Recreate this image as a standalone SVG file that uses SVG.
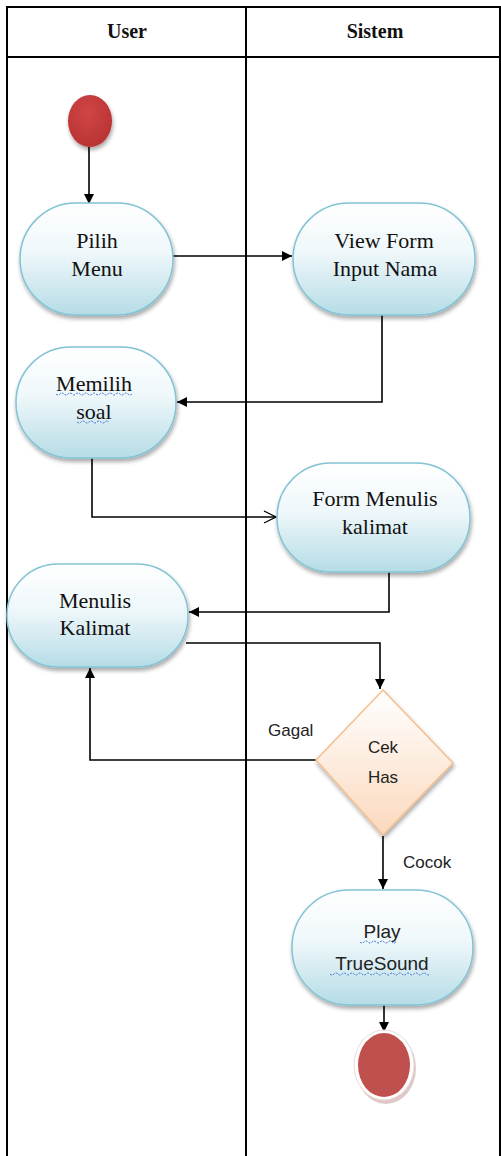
<svg xmlns="http://www.w3.org/2000/svg" width="501" height="1156" viewBox="0 0 501 1156">
  <defs>
    <linearGradient id="actFill" x1="0" y1="0" x2="0" y2="1">
      <stop offset="0" stop-color="#ffffff"/>
      <stop offset="0.45" stop-color="#eef7fa"/>
      <stop offset="1" stop-color="#b5dce6"/>
    </linearGradient>
    <linearGradient id="decFill" x1="0" y1="0" x2="0" y2="1">
      <stop offset="0" stop-color="#ffffff"/>
      <stop offset="1" stop-color="#fbd9bd"/>
    </linearGradient>
    <radialGradient id="redFill" cx="0.45" cy="0.35" r="0.7">
      <stop offset="0" stop-color="#d04545"/>
      <stop offset="1" stop-color="#b83232"/>
    </radialGradient>
    <filter id="shadow" x="-20%" y="-20%" width="140%" height="150%">
      <feGaussianBlur in="SourceAlpha" stdDeviation="2"/>
      <feOffset dx="1" dy="3" result="b"/>
      <feComponentTransfer><feFuncA type="linear" slope="0.35"/></feComponentTransfer>
      <feMerge><feMergeNode/><feMergeNode in="SourceGraphic"/></feMerge>
    </filter>
    <marker id="arrow" viewBox="0 0 10 10" refX="10" refY="5" markerWidth="10" markerHeight="10" markerUnits="userSpaceOnUse" orient="auto">
      <path d="M0,0 L10,5 L0,10 z" fill="#000"/>
    </marker>
    <marker id="openArrow" viewBox="0 0 14 14" refX="13" refY="7" markerWidth="14" markerHeight="14" markerUnits="userSpaceOnUse" orient="auto">
      <path d="M1,1 L13,7 L1,13" fill="none" stroke="#000" stroke-width="1.3"/>
    </marker>
    <style>
      .lane { fill: none; stroke: #000; stroke-width: 2; }
      .act { fill: url(#actFill); stroke: #82c3d4; stroke-width: 1.5; filter: url(#shadow); }
      .dec { fill: url(#decFill); stroke: #f5be8c; stroke-width: 1.5; filter: url(#shadow); }
      .edge { fill: none; stroke: #000; stroke-width: 1.6; }
      .wavy { fill: none; stroke: #3b6fd6; stroke-width: 1; stroke-dasharray: 2 1.2; }
    </style>
  </defs>

  <rect width="501" height="1156" fill="#ffffff"/>

  <!-- swimlane table -->
  <g id="lanes">
    <path class="lane" d="M7,1160 V7 H503 M7,57 H503 M246,7 V1160 M500,7 V1160"/>
    <g font-family="'Liberation Serif', 'DejaVu Serif', serif" font-weight="bold" font-size="20" text-anchor="middle" fill="#111">
      <text x="127" y="38">User</text>
      <text x="375" y="38">Sistem</text>
    </g>
  </g>

  <!-- connectors -->
  <g id="connectors">
    <path class="edge" d="M89,147 V204" marker-end="url(#arrow)"/>
    <path class="edge" d="M173,256 H292" marker-end="url(#arrow)"/>
    <path class="edge" d="M382,315 V402 H177" marker-end="url(#arrow)"/>
    <path class="edge" d="M92,458 V517 H276" marker-end="url(#openArrow)"/>
    <path class="edge" d="M389,572 V612 H189" marker-end="url(#arrow)"/>
    <path class="edge" d="M186,643 H380 V689" marker-end="url(#arrow)"/>
    <path class="edge" d="M316,760 H90 V668" marker-end="url(#arrow)"/>
    <path class="edge" d="M383,836 V889" marker-end="url(#arrow)"/>
    <path class="edge" d="M384,1005 V1032" marker-end="url(#arrow)"/>
    <g font-family="'Liberation Sans', 'DejaVu Sans', sans-serif" font-size="17" fill="#222">
      <text x="268" y="736">Gagal</text>
      <text x="403" y="868">Cocok</text>
    </g>
  </g>

  <!-- initial node -->
  <g id="start">
    <ellipse cx="90" cy="121" rx="22" ry="26" fill="url(#redFill)" filter="url(#shadow)"/>
  </g>

  <g font-family="'Liberation Serif', 'DejaVu Serif', serif" font-size="22" text-anchor="middle" fill="#111">
    <g id="pilih-menu">
      <rect class="act" x="20" y="203" width="153" height="112" rx="56" ry="56"/>
      <text x="97" y="248">Pilih</text>
      <text x="97" y="276">Menu</text>
    </g>

    <g id="view-form">
      <rect class="act" x="293" y="203" width="182" height="112" rx="56" ry="56"/>
      <text x="384" y="248">View Form</text>
      <text x="385" y="276">Input Nama</text>
    </g>

    <g id="memilih-soal">
      <rect class="act" x="16" y="347" width="160" height="111" rx="55" ry="55"/>
      <text x="94" y="391">Memilih</text>
      <text x="94" y="419">soal</text>
      <path class="wavy" d="M56,394 q2,2 4,0 t4,0 t4,0 t4,0 t4,0 t4,0 t4,0 t4,0 t4,0 t4,0 t4,0 t4,0 t4,0 t4,0 t4,0 t4,0 t4,0 t4,0 t4,0"/>
      <path class="wavy" d="M77,422 q2,2 4,0 t4,0 t4,0 t4,0 t4,0 t4,0 t4,0 t4,0"/>
    </g>

    <g id="form-menulis">
      <rect class="act" x="277" y="463" width="193" height="109" rx="54" ry="54"/>
      <text x="375" y="506">Form Menulis</text>
      <text x="375" y="534">kalimat</text>
    </g>

    <g id="menulis-kalimat">
      <rect class="act" x="7" y="564" width="181" height="103" rx="51" ry="51"/>
      <text x="95" y="608">Menulis</text>
      <text x="95" y="635">Kalimat</text>
    </g>
  </g>

  <g font-family="'Liberation Sans', 'DejaVu Sans', sans-serif" text-anchor="middle" fill="#222">
    <g id="cek-has" font-size="17">
      <path class="dec" d="M383,690 L453,763 L383,835 L316,760 Z"/>
      <text x="383" y="753">Cek</text>
      <text x="383" y="783">Has</text>
    </g>

    <g id="play-truesound" font-size="19">
      <rect class="act" x="292" y="890" width="181" height="115" rx="57" ry="57"/>
      <text x="382" y="938">Play</text>
      <text x="382" y="970">TrueSound</text>
      <path class="wavy" d="M360,942 q2,2 4,0 t4,0 t4,0 t4,0 t4,0 t4,0 t4,0 t4,0 t4,0"/>
      <path class="wavy" d="M330,974 q2,2 4,0 t4,0 t4,0 t4,0 t4,0 t4,0 t4,0 t4,0 t4,0 t4,0 t4,0 t4,0 t4,0 t4,0 t4,0 t4,0 t4,0 t4,0 t4,0 t4,0 t4,0 t4,0 t4,0 t4,0 t4,0"/>
    </g>
  </g>

  <!-- final node -->
  <g id="end">
    <ellipse cx="386" cy="1068" rx="30" ry="36" fill="#c9a3a3" opacity="0.6"/>
    <ellipse cx="384" cy="1065" rx="30" ry="35" fill="#ffffff" stroke="#eedada" stroke-width="1"/>
    <ellipse cx="384" cy="1065" rx="26" ry="32" fill="#c0504d"/>
  </g>
</svg>
